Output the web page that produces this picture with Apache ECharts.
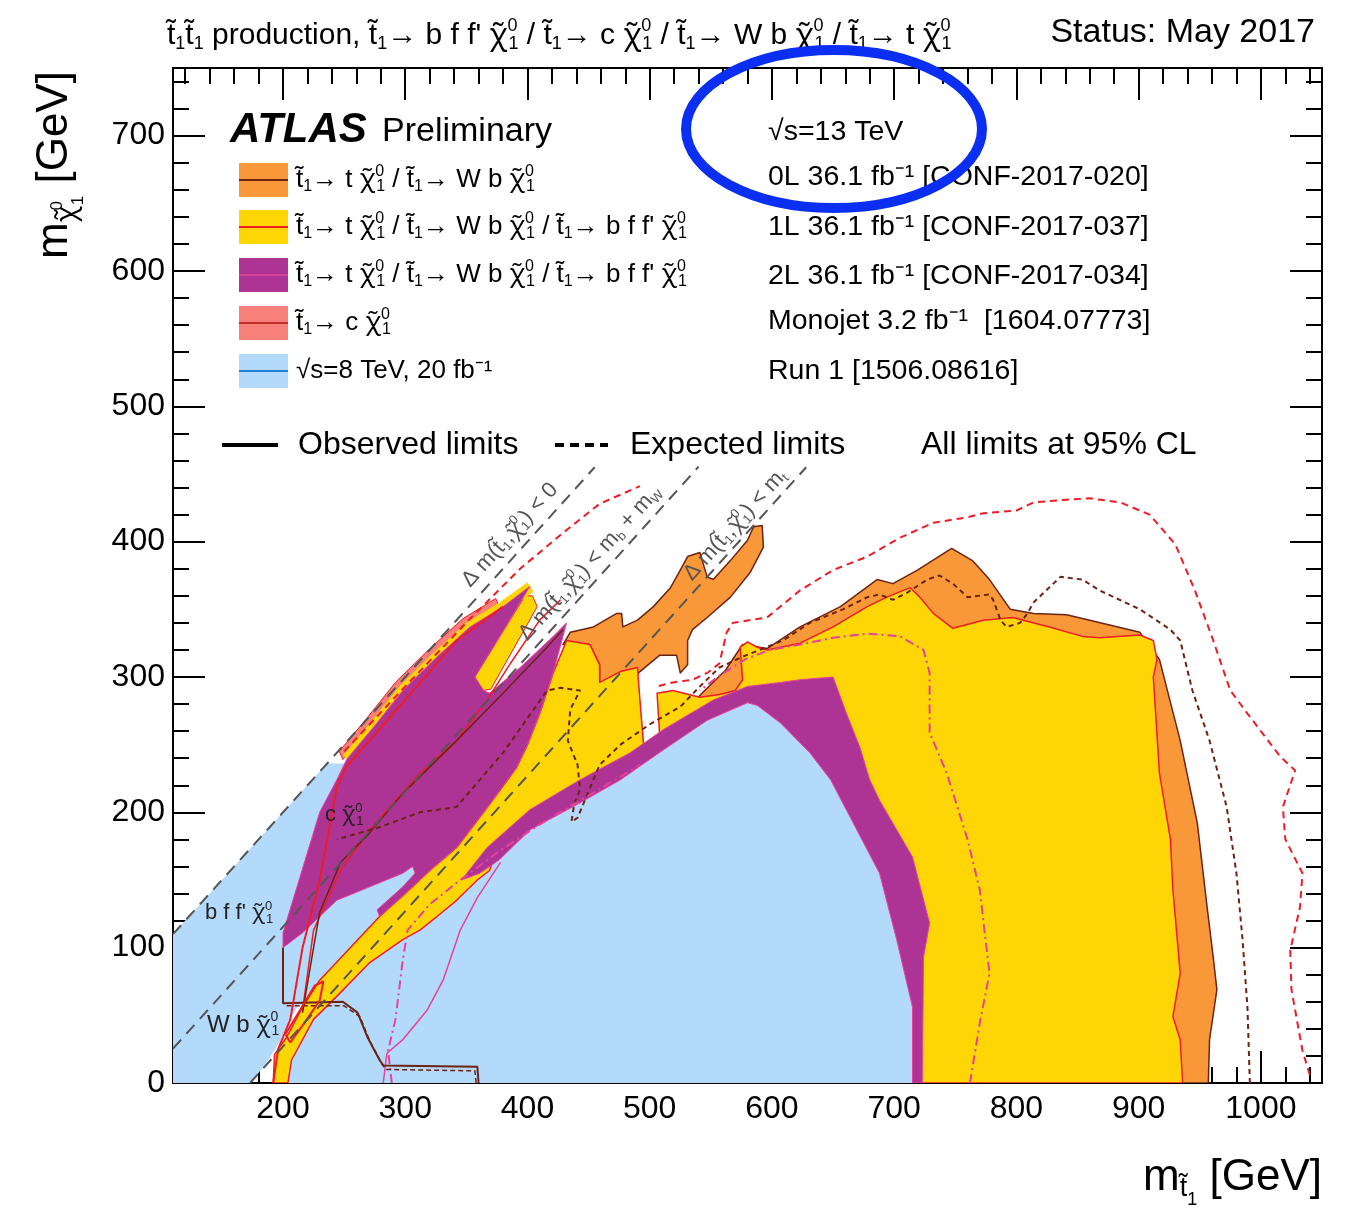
<!DOCTYPE html>
<html><head><meta charset="utf-8">
<script src="https://cdn.jsdelivr.net/npm/echarts@6/dist/echarts.min.js"></script>
<style>html,body{margin:0;padding:0;background:#fff}#c{width:1356px;height:1215px}</style>
</head><body><div id="c"></div>
<script>
// ---------- axis ticks ----------
const xMajorTicks = [200,300,400,500,600,700,800,900,1000];
const yMajorTicks = [0,100,200,300,400,500,600,700];
const xMinorTicks = []; for (let v = 120; v <= 1040; v += 20) if (v % 100) xMinorTicks.push(v);
const yMinorTicks = []; for (let v = 20; v <= 740; v += 20) if (v % 100) yMinorTicks.push(v);

// ---------- excluded regions (m_stop, m_LSP) in GeV ----------
const run1Region = [[110,0],[110,110],[236,236],[262,236],[361,155],[377,165],[402,187],[443,207],[476,224],[511,246],[547,268],[580,281],[588,279],[607,266],[631,244],[648,224],[688,155],[702,106],[715,56],[715,0],[199,0],[206,24],[214,39],[224,54],[213,58],[203,42],[197,30],[185,13],[173,0]];
const zeroLepHand = [[429,324],[435,333],[454,337],[473,347],[477,347],[478,337],[490,342],[503,352],[517,366],[525,379],[531,389],[541,392],[547,374],[552,372],[566,386],[580,401],[585,411],[592,412],[593,396],[582,377],[566,359],[547,344],[535,335],[531,327],[531,309],[525,303],[522,316],[508,316],[492,304],[476,290],[459,296],[459,309],[451,324]];
const zeroLepMain = [[533,279],[545,290],[562,305],[576,324],[596,321],[623,337],[656,352],[686,372],[699,369],[719,379],[747,395],[764,386],[778,372],[795,350],[814,347],[841,346],[860,342],[901,333],[917,313],[934,253],[948,192],[956,130],[961,93],[964,69],[958,32],[957,0],[909,0],[868,283],[590,290]];
const monojetDiag = [[246,245],[269,270],[292,296],[319,320],[347,343],[374,358],[377,352],[350,337],[322,314],[295,290],[272,264],[249,239]];
const oneLepMain = [[192,0],[193,21],[203,34],[216,56],[230,76],[255,100],[279,123],[300,140],[320,157],[342,174],[364,200],[378,217],[391,233],[400,250],[410,273],[421,303],[432,327],[451,324],[459,309],[459,296],[476,304],[490,307],[492,283],[495,250],[508,250],[508,259],[506,288],[519,290],[541,285],[557,287],[570,290],[576,298],[574,322],[580,326],[588,322],[596,320],[623,325],[650,337],[678,352],[694,359],[713,366],[721,359],[732,347],[748,336],[773,342],[797,344],[827,337],[854,330],[868,329],[901,331],[912,327],[915,313],[912,300],[917,229],[926,180],[928,143],[934,81],[928,49],[934,32],[936,0],[719,0],[719,61],[717,113],[702,165],[680,202],[668,239],[656,268],[623,287],[588,287],[549,276],[511,253],[476,233],[443,215],[402,196],[378,180],[369,157],[359,150],[342,135],[326,123],[312,113],[298,106],[271,89],[244,64],[225,47],[207,17],[204,0]];
const oneLepNotch = [[357,300],[364,290],[370,291],[408,352],[404,360],[398,360]];
const oneLepDiag = [[249,242],[272,267],[295,293],[322,317],[350,340],[377,355],[400,370],[405,363],[383,349],[356,334],[328,311],[301,287],[278,261],[255,236]];
const twoLepMain = [[402,367],[378,331],[357,300],[364,290],[369,288],[394,307],[421,330],[432,340],[421,303],[410,273],[400,250],[391,233],[378,217],[364,200],[342,174],[320,157],[300,140],[279,123],[277,128],[282,132],[298,145],[308,155],[306,160],[298,155],[271,145],[244,135],[230,123],[216,111],[200,100],[200,111],[230,200],[244,224],[252,239],[275,264],[298,290],[325,314],[353,337],[380,352]];
const twoLepBand = [[346,150],[367,174],[402,202],[443,224],[484,244],[511,261],[552,283],[580,293],[607,296],[623,298],[650,300],[661,273],[672,248],[680,224],[688,209],[715,167],[729,118],[724,93],[723,0],[715,0],[715,56],[702,106],[688,155],[648,224],[631,244],[607,266],[588,279],[580,281],[547,268],[511,246],[476,224],[443,207],[402,187],[377,165],[361,155]];

// ---------- contours ----------
const oneLepExpOuter = [[1040,6],[1034,24],[1025,69],[1024,98],[1032,130],[1034,155],[1020,180],[1018,204],[1028,231],[1016,241],[989,273],[975,290],[961,327],[946,364],[930,398],[909,420],[885,429],[860,432],[841,431],[814,429],[800,423],[773,421],[760,418],[732,414],[705,403],[678,389],[650,379],[623,364],[596,344],[568,340],[563,333],[557,310],[547,303],[535,298],[519,296],[506,293]];
const oneLepExpDiag = [[250,245],[300,293],[353,343],[394,380],[427,405],[459,428],[492,441]];
const oneLepObsInner = [[216,54],[225,113],[247,157],[271,187],[312,229],[342,253],[367,283],[386,310],[410,342],[427,357]];
const zeroLepExp = [[991,0],[989,56],[985,106],[980,155],[972,204],[958,253],[944,290],[934,327],[926,335],[901,350],[868,364],[854,372],[836,374],[814,355],[809,347],[803,340],[792,337],[787,342],[781,357],[778,361],[760,359],[748,369],[737,375],[727,372],[710,362],[699,357],[688,361],[678,359],[658,350],[631,340],[609,327],[590,320],[576,315],[557,307],[541,293],[525,278],[500,265],[476,250],[459,235],[447,209],[441,196],[436,193],[438,205],[443,217],[441,235],[433,253],[435,276],[443,290],[427,292],[416,290],[380,244],[342,204],[312,200],[279,189],[244,180]];
const twoLepExpRight = [[762,0],[770,44],[778,81],[770,143],[760,180],[743,229],[729,259],[729,303],[724,320],[705,330],[678,332],[650,329],[623,324],[598,320],[578,313],[557,301],[541,290]];
const twoLepExpLeft = [[289,0],[286,24],[292,47],[298,91],[302,113],[320,132],[345,150],[378,172],[410,191],[451,213],[492,235]];
const twoLepObsLeft = [[282,0],[285,22],[298,32],[318,54],[331,76],[345,113],[359,137],[378,163]];
const zeroLepObsWb = [[200,100],[200,59],[249,60],[261,52],[269,34],[279,17],[282,13],[359,12],[360,0]];
const zeroLepExpWb = [[203,57],[250,57],[263,49],[271,31],[281,14],[284,10],[357,9],[358,0]];
const zeroLepObsDiag = [[216,52],[225,100],[230,126],[247,163],[271,185],[298,214],[342,253],[380,288],[416,322],[429,335]];
const monojetObs = [[192,0],[196,25],[206,47],[216,100],[230,150],[238,189],[244,219],[252,234],[298,281],[342,327],[380,352]];
const oneLepLoop = [[202,36],[214,54],[226,72],[233,75],[230,61],[218,45],[206,30],[202,36]];

// ---------- kinematic boundaries ----------
const diagZero = [[110,110],[455,455]];
const diagWb = [[110,25.4],[540,455.4]];
const diagTop = [[173,0],[628,455]];

const C = {blue:'#b4dafb', orange:'#f99839', yellow:'#fed505', magenta:'#ad3495', salmon:'#f7807a',
  red:'#ee1c25', brown:'#6d2312', pink:'#e8419c', gray:'#555555'};
const FONT = 'Liberation Sans, Arial, Helvetica, sans-serif';
const GFONT = 'Noto Sans, DejaVu Sans, sans-serif';

function poly(name, pts, fill, stroke, lw, z) {
  return {type:'custom', name, coordinateSystem:'cartesian2d', xAxisIndex:0, yAxisIndex:0,
    data: pts, z, silent:true, clip:true, animation:false,
    renderItem(params, api) {
      if (params.dataIndex !== 0) return {type:'group', children:[]};
      const points = pts.map(p => api.coord(p));
      return {type:'polygon', shape:{points}, style:{fill, stroke: stroke || null, lineWidth: lw || 0, lineJoin:'round'}};
    }};
}
function line(name, pts, color, width, dash, z) {
  return {type:'line', name, data: pts, xAxisIndex:0, yAxisIndex:0, showSymbol:false, symbol:'none',
    silent:true, animation:false, z: z || 6, clip:true,
    lineStyle:{color, width, type: dash || 'solid'}};
}

const series = [
  poly('Run 1', run1Region, C.blue, null, 0, 1),
  poly('0L hand', zeroLepHand, C.orange, C.brown, 1.5, 2),
  poly('0L main', zeroLepMain, C.orange, C.brown, 1.5, 2),
  poly('Monojet', monojetDiag, C.salmon, C.red, 1, 3),
  poly('1L main', oneLepMain, C.yellow, C.red, 1.5, 4),
  poly('1L notch', oneLepNotch, C.yellow, C.red, 1, 4),
  poly('1L diag', oneLepDiag, C.yellow, null, 0, 4),
  poly('2L main', twoLepMain, C.magenta, C.pink, 1, 5),
  poly('2L band', twoLepBand, C.magenta, C.pink, 1, 5),
  line('1L exp', oneLepExpOuter, C.red, 2, [7,5]),
  line('1L exp diag', oneLepExpDiag, C.red, 2, [7,5]),
  line('1L obs inner', oneLepObsInner, C.red, 1.5),
  line('0L exp', zeroLepExp, C.brown, 2, [5,4]),
  line('2L exp r', twoLepExpRight, C.pink, 2, [9,4,2,4]),
  line('2L exp l', twoLepExpLeft, C.pink, 2, [9,4,2,4]),
  line('2L obs l', twoLepObsLeft, C.pink, 1.5),
  line('0L obs wb', zeroLepObsWb, C.brown, 2),
  line('0L exp wb', zeroLepExpWb, C.brown, 1.5, [5,3]),
  line('0L obs diag', zeroLepObsDiag, C.brown, 1.5),
  line('Monojet obs', monojetObs, C.red, 2),
  line('1L loop', oneLepLoop, C.red, 2),
  line('d0', diagZero, C.gray, 2, [12,8], 7),
  line('dWb', diagWb, C.gray, 2, [12,8], 7),
  line('dt', diagTop, C.gray, 2, [12,8], 7)
];

const tickStyle = {color:'#000', width:2};
function xAx(pos, ticks, len, withLine, withLabel) {
  return {type:'value', min:110, max:1050, position:pos, offset:0, splitLine:{show:false},
    axisLine:{show:withLine, onZero:false, lineStyle:{color:'#000', width:2}},
    axisTick:{show:true, inside:true, length:len, customValues:ticks, lineStyle:tickStyle},
    axisLabel: withLabel ? {show:true, customValues:ticks, fontSize:32, color:'#000', fontFamily:FONT, margin:10,
      formatter: v => String(v)} : {show:false}};
}
function yAx(pos, ticks, len, withLine, withLabel) {
  return {type:'value', min:0, max:750, position:pos, offset:0, splitLine:{show:false},
    axisLine:{show:withLine, onZero:false, lineStyle:{color:'#000', width:2}},
    axisTick:{show:true, inside:true, length:len, customValues:ticks, lineStyle:tickStyle},
    axisLabel: withLabel ? {show:true, customValues:ticks, fontSize:32, color:'#000', fontFamily:FONT, margin:8,
      formatter: v => String(v)} : {show:false}};
}

// rich-text pieces: stop squark and neutralino with stacked indices
const N = s => `{n|${s}}`;
const T = '{n|t\u0303}{b|1}';
const X = '{g|\u03C7\u0303}{p|0}{b|1}';
const AR = N('\u2192 ');
function richSet(size, color) {
  const s = Math.round(size * 0.6);
  return {
    n:{fontSize:size, fontFamily:FONT, fill:color},
    g:{fontSize:size, fontFamily:GFONT, fill:color},
    p:{fontSize:s, fontFamily:FONT, fill:color, width:1, padding:[0,0,Math.round(size*0.62),0]},
    b:{fontSize:s, fontFamily:FONT, fill:color, padding:[Math.round(size*0.55),0,0,0]}
  };
}
function rtxt(x, y, text, size, opts) {
  opts = opts || {};
  const el = {type:'text', x, y, z:100, silent:true,
    style:{text, rich:richSet(size, opts.color || '#000'), align:opts.align || 'left', verticalAlign:'middle'}};
  if (opts.rotation !== undefined) el.rotation = opts.rotation;
  return el;
}
function txt(x, y, text, size, style) {
  return {type:'text', x, y, z:100, silent:true,
    style:Object.assign({text, fontSize:size, fontFamily:FONT, fill:'#000', verticalAlign:'middle', align:'left'}, style || {})};
}
function swatch(y, fill, lc) {
  return [
    {type:'rect', shape:{x:239, y:y-17, width:49, height:34}, style:{fill}, z:100, silent:true},
    {type:'line', shape:{x1:239, y1:y, x2:288, y2:y}, style:{stroke:lc, lineWidth:2}, z:101, silent:true}
  ];
}
const rot = Math.atan2(1.3533, 1.2223);
const decayTW = T + AR + N('t ') + X + N(' / ') + T + AR + N('W b ') + X;
const decayTWB = decayTW + N(' / ') + T + AR + N('b f f\' ') + X;

const graphic = [
  rtxt(167, 36, T + T + N(' production, ') + T + AR + N('b f f\' ') + X + N(' / ') + T + AR + N('c ') + X + N(' / ') +
        T + AR + N('W b ') + X + N(' / ') + T + AR + N('t ') + X, 30),
  txt(1315, 33, 'Status: May 2017', 34, {align:'right'}),
  txt(230, 130, 'ATLAS', 42, {fontWeight:'bold', fontStyle:'italic'}),
  txt(382, 132, 'Preliminary', 34),
  ...swatch(180, C.orange, C.brown),
  ...swatch(227, C.yellow, C.red),
  ...swatch(275, C.magenta, '#d8409a'),
  ...swatch(323, C.salmon, '#c0302a'),
  ...swatch(371, C.blue, '#1f7fd6'),
  rtxt(296, 180, decayTW, 26),
  rtxt(296, 227, decayTWB, 26),
  rtxt(296, 275, decayTWB, 26),
  rtxt(296, 323, T + AR + N('c ') + X, 26),
  txt(296, 371, '\u221As=8 TeV, 20 fb\u207B\u00B9', 26),
  txt(768, 132, '\u221As=13 TeV', 28.5),
  txt(768, 177, '0L 36.1 fb\u207B\u00B9 [CONF-2017-020]', 28.5),
  txt(768, 227, '1L 36.1 fb\u207B\u00B9 [CONF-2017-037]', 28.5),
  txt(768, 276, '2L 36.1 fb\u207B\u00B9 [CONF-2017-034]', 28.5),
  txt(768, 321, 'Monojet 3.2 fb\u207B\u00B9  [1604.07773]', 28.5),
  txt(768, 371, 'Run 1 [1506.08616]', 28.5),
  {type:'line', shape:{x1:222, y1:445, x2:278, y2:445}, style:{stroke:'#000', lineWidth:4}, z:100, silent:true},
  txt(298, 445, 'Observed limits', 32),
  {type:'line', shape:{x1:555, y1:445, x2:608, y2:445}, style:{stroke:'#000', lineWidth:4, lineDash:[9,6]}, z:100, silent:true},
  txt(630, 445, 'Expected limits', 32),
  txt(921, 445, 'All limits at 95% CL', 32),
  rtxt(325, 815, N('c ') + X, 22, {color:'#222'}),
  rtxt(205, 913, N('b f f\' ') + X, 22, {color:'#222'}),
  rtxt(207, 1025, N('W b ') + X, 24, {color:'#222'}),
  rtxt(510, 535, N('\u0394 m(') + T + N(',') + X + N(') < 0'), 22, {color:C.gray, align:'center', rotation:rot}),
  rtxt(590, 563, N('\u0394 m(') + T + N(',') + X + N(') < m') + '{b|b}' + N(' + m') + '{b|W}', 22, {color:C.gray, align:'center', rotation:rot}),
  rtxt(735, 525, N('\u0394 m(') + T + N(',') + X + N(') < m') + '{b|t}', 22, {color:C.gray, align:'center', rotation:rot}),
  {type:'text', x:1322, y:1178, z:100, silent:true,
    style:{text:'{m|m}{s|t\u0303}{q|1}{m| [GeV]}', align:'right', verticalAlign:'middle',
      rich:{m:{fontSize:44, fontFamily:FONT, fill:'#000'},
            s:{fontSize:27, fontFamily:FONT, fill:'#000', padding:[22,0,0,0]},
            q:{fontSize:18, fontFamily:FONT, fill:'#000', padding:[44,0,0,0]}}}},
  {type:'text', x:55, y:165, rotation:Math.PI/2, z:100, silent:true,
    style:{text:'{m|m}{g|\u03C7\u0303}{p|0}{q|1}{m| [GeV]}', align:'center', verticalAlign:'middle',
      rich:{m:{fontSize:44, fontFamily:FONT, fill:'#000'},
            g:{fontSize:27, fontFamily:GFONT, fill:'#000', padding:[24,0,0,0]},
            p:{fontSize:17, fontFamily:FONT, fill:'#000', width:1, padding:[4,0,0,0]},
            q:{fontSize:17, fontFamily:FONT, fill:'#000', padding:[46,0,0,0]}}}},
  {type:'ellipse', shape:{cx:834, cy:129, rx:148, ry:79}, style:{fill:null, stroke:'#0b2ff2', lineWidth:10}, z:200, silent:true}
];

const chart = echarts.init(document.getElementById('c'), null, {renderer:'canvas'});
chart.setOption({
  animation:false,
  backgroundColor:'#fff',
  grid:{left:173, right:34, top:68, bottom:132, outerBoundsMode:'none'},
  xAxis:[xAx('bottom', xMajorTicks, 32, true, true), xAx('bottom', xMinorTicks, 16, false, false),
         xAx('top', xMajorTicks, 32, true, false), xAx('top', xMinorTicks, 16, false, false)],
  yAxis:[yAx('left', yMajorTicks, 32, true, true), yAx('left', yMinorTicks, 16, false, false),
         yAx('right', yMajorTicks, 32, true, false), yAx('right', yMinorTicks, 16, false, false)],
  series,
  graphic
});
</script></body></html>
